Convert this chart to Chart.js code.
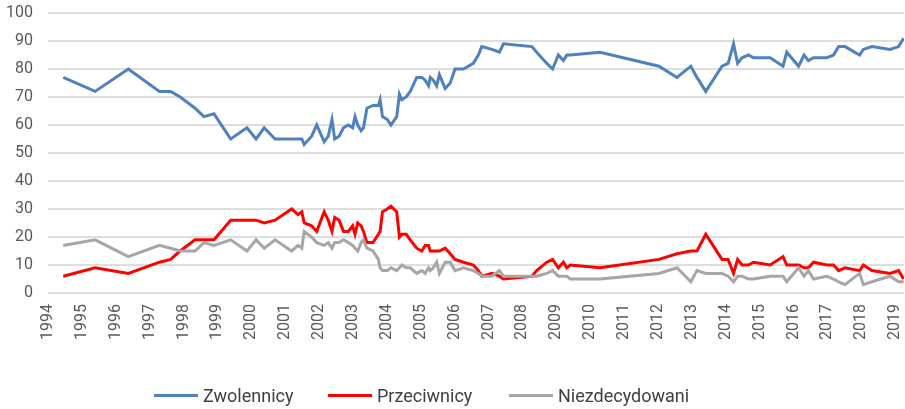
<!DOCTYPE html>
<html>
<head>
<meta charset="utf-8">
<script src="https://cdn.jsdelivr.net/npm/chart.js@4.4.1/dist/chart.umd.min.js"></script>
<style>
  html, body { margin: 0; padding: 0; background: #ffffff; }
  #wrap { position: relative; width: 905px; height: 409px; }
  .item { position: absolute; top: 384px; height: 22px; display: flex; align-items: center;
          font-family: Roboto, "Liberation Sans", sans-serif; font-size: 18px; color: #404040; white-space: nowrap; }
  .swatch { width: 44px; height: 3px; margin-right: 5px; }
</style>
</head>
<body>
<div id="wrap">
  <canvas id="c" width="905" height="409"></canvas>
</div>
<script>
// Survey dates (decimal years)
const dates = [
  1994.45, 1995.39, 1996.37, 1997.29, 1997.62, 1997.90, 1998.34, 1998.60, 1998.90, 1999.39,
  1999.87, 2000.14, 2000.38, 2000.70, 2001.19, 2001.38, 2001.49, 2001.56, 2001.78, 2001.93,
  2002.15, 2002.27, 2002.38, 2002.46, 2002.59, 2002.72, 2002.86, 2002.99, 2003.06, 2003.14,
  2003.24, 2003.31, 2003.41, 2003.59, 2003.75, 2003.80, 2003.87, 2004.01, 2004.12, 2004.29,
  2004.37, 2004.44, 2004.57, 2004.69, 2004.88, 2005.03, 2005.13, 2005.23, 2005.28, 2005.37,
  2005.47, 2005.55, 2005.72, 2005.87, 2006.01, 2006.26, 2006.55, 2006.70, 2006.80, 2007.10,
  2007.32, 2007.44, 2008.28, 2008.42, 2008.72, 2008.89, 2009.06, 2009.21, 2009.31, 2009.41,
  2010.29, 2012.03, 2012.56, 2012.97, 2013.15, 2013.41, 2013.89, 2014.07, 2014.23, 2014.35,
  2014.48, 2014.67, 2014.82, 2015.31, 2015.69, 2015.80, 2016.15, 2016.31, 2016.44, 2016.59,
  2016.98, 2017.18, 2017.33, 2017.52, 2017.95, 2018.06, 2018.31, 2018.85, 2019.10, 2019.25
];
const zwolennicy = [
  77, 72, 80, 72, 72, 70, 66, 63, 64, 55,
  59, 55, 59, 55, 55, 55, 55, 53, 56, 60,
  54, 56, 62, 55, 56, 59, 60, 59, 63, 60,
  58, 59, 66, 67, 67, 69, 63, 62, 60, 63,
  71, 69, 70, 72, 77, 77, 76, 74, 77, 76,
  74, 78, 73, 75, 80, 80, 82, 85, 88, 87,
  86, 89, 88, 86, 82, 80, 85, 83, 85, 85,
  86, 81, 77, 81, 77, 72, 81, 82, 89, 82,
  84, 85, 84, 84, 81, 86, 81, 85, 83, 84,
  84, 85, 88, 88, 85, 87, 88, 87, 88, 91
];
const przeciwnicy = [
  6, 9, 7, 11, 12, 15, 19, 19, 19, 26,
  26, 26, 25, 26, 30, 28, 29, 25, 24, 22,
  29, 26, 22, 27, 26, 22, 22, 24, 21, 25,
  24, 22, 18, 18, 21, 22, 29, 30, 31, 29,
  20, 21, 21, 19, 16, 15, 17, 17, 15, 15,
  15, 15, 16, 14, 12, 11, 10, 8, 6, 7,
  6, 5, 6, 8, 11, 12, 9, 11, 9, 10,
  9, 12, 14, 15, 15, 21, 12, 12, 7, 12,
  10, 10, 11, 10, 13, 10, 10, 9, 9, 11,
  10, 10, 8, 9, 8, 10, 8, 7, 8, 5
];
const niezdecydowani = [
  17, 19, 13, 17, 16, 15, 15, 18, 17, 19,
  15, 19, 16, 19, 15, 17, 16, 22, 20, 18,
  17, 18, 16, 18, 18, 19, 18, 17, 16, 15,
  18, 19, 16, 15, 12, 9, 8, 8, 9, 8,
  9, 10, 9, 9, 7, 8, 7, 9, 8, 9,
  11, 7, 11, 11, 8, 9, 8, 7, 6, 6,
  8, 6, 6, 6, 7, 8, 6, 6, 6, 5,
  5, 7, 9, 4, 8, 7, 7, 6, 4, 6,
  6, 5, 5, 6, 6, 4, 9, 6, 8, 5,
  6, 5, 4, 3, 7, 3, 4, 6, 4, 4
];
const seriesNames = ['Zwolennicy', 'Przeciwnicy', 'Niezdecydowani'];
const seriesColors = ['#4f81bd', '#ff0000', '#a6a6a6'];
const yTicks = [0, 10, 20, 30, 40, 50, 60, 70, 80, 90, 100];
const xTickYears = [1994, 1995, 1996, 1997, 1998, 1999, 2000, 2001, 2002, 2003, 2004, 2005, 2006,
  2007, 2008, 2009, 2010, 2011, 2012, 2013, 2014, 2015, 2016, 2017, 2018, 2019];

const allValues = [zwolennicy, przeciwnicy, niezdecydowani];
const datasets = allValues.map((vals, i) => ({
  label: seriesNames[i],
  data: dates.map((d, j) => ({ x: d, y: vals[j] })),
  borderColor: seriesColors[i],
  backgroundColor: seriesColors[i],
  borderWidth: 3,
  pointRadius: 0,
  tension: 0,
  fill: false,
  order: 3 - i
}));

const tickFont = { family: 'Roboto, "Liberation Sans", sans-serif', size: 16 };

new Chart(document.getElementById('c'), {
  type: 'line',
  data: { datasets },
  options: {
    responsive: false,
    animation: false,
    devicePixelRatio: 1,
    layout: { padding: { top: 13, right: 1, left: 0, bottom: 66 } },
    plugins: { legend: { display: false }, tooltip: { enabled: false } },
    scales: {
      x: {
        type: 'linear',
        min: 1994,
        max: 2019.26,
        afterBuildTicks: (s) => { s.ticks = xTickYears.map(v => ({ value: v })); },
        afterFit: (s) => { s.height = 50; s.paddingLeft = 0; s.paddingRight = 0; },
        grid: { display: false, drawTicks: false },
        border: { display: false },
        ticks: { minRotation: 90, maxRotation: 90, padding: 11, color: '#595959', font: tickFont,
                 callback: (v) => String(v) }
      },
      y: {
        min: 0, max: 100,
        afterBuildTicks: (s) => { s.ticks = yTicks.map(v => ({ value: v })); },
        afterFit: (s) => { s.width = 48; s.paddingTop = 0; s.paddingBottom = 0; },
        grid: { color: '#dedede', lineWidth: 2, drawTicks: false },
        border: { display: false },
        ticks: { padding: 15, color: '#595959', font: tickFont }
      }
    }
  }
});

const legendLeft = [154, 328, 509];
const wrap = document.getElementById('wrap');
seriesNames.forEach((name, i) => {
  const item = document.createElement('div');
  item.className = 'item';
  item.style.left = legendLeft[i] + 'px';
  const sw = document.createElement('span');
  sw.className = 'swatch';
  sw.style.background = seriesColors[i];
  const tx = document.createElement('span');
  tx.textContent = name;
  item.appendChild(sw);
  item.appendChild(tx);
  wrap.appendChild(item);
});
</script>
</body>
</html>
